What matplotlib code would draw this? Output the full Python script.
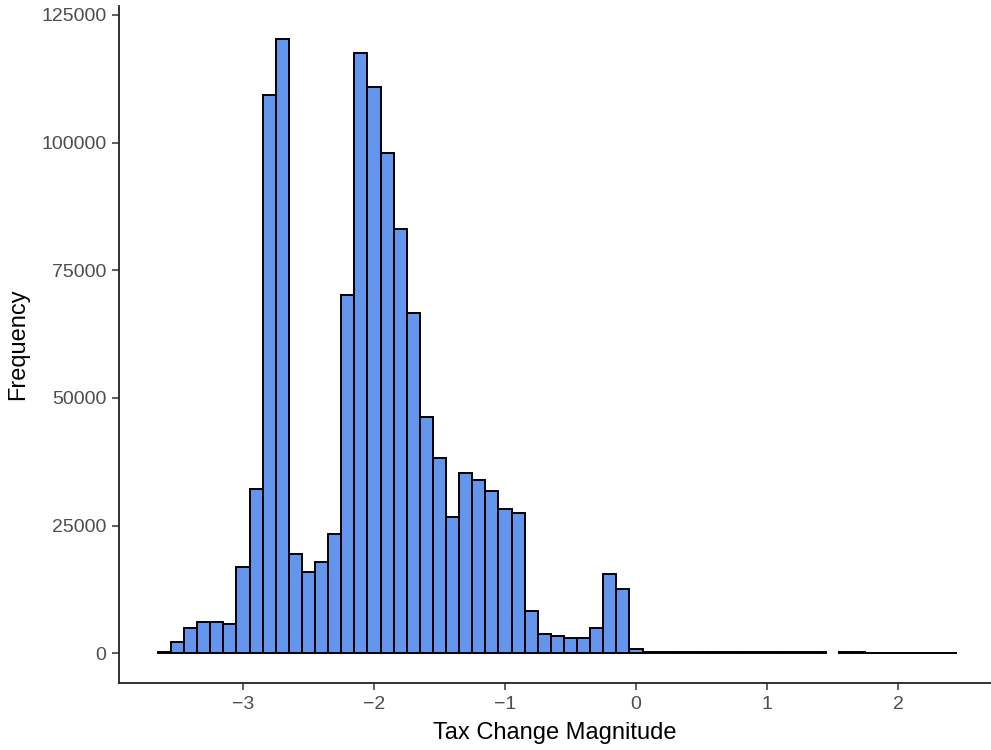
import numpy as np
import matplotlib
matplotlib.use("Agg")
import matplotlib.pyplot as plt

# bin centers (width 0.1) and counts
bin_centers = [-3.6, -3.5, -3.4, -3.3, -3.2, -3.1, -3.0, -2.9, -2.8, -2.7,
               -2.6, -2.5, -2.4, -2.3, -2.2, -2.1, -2.0, -1.9, -1.8, -1.7,
               -1.6, -1.5, -1.4, -1.3, -1.2, -1.1, -1.0, -0.9, -0.8, -0.7,
               -0.6, -0.5, -0.4, -0.3, -0.2, -0.1, 0.0, 0.1, 0.2, 0.3,
               0.4, 0.5, 0.6, 0.7, 0.8, 0.9, 1.0, 1.1, 1.2, 1.3,
               1.4, 1.6, 1.7, 1.8, 1.9, 2.0, 2.1, 2.2, 2.3, 2.4]
counts = [300, 2200, 5000, 6100, 6100, 5800, 16800, 32100, 109300, 120200,
          19500, 15900, 17900, 23400, 70100, 117500, 110800, 97900, 83000, 66600,
          46200, 38300, 26600, 35200, 34000, 31700, 28200, 27400, 8200, 3800,
          3300, 2900, 2900, 5000, 15500, 12500, 900, 250, 250, 250,
          250, 250, 250, 250, 250, 250, 250, 250, 250, 250,
          250, 250, 250, 0, 0, 0, 0, 0, 0, 0]
bin_width = 0.1

x_ticks = [-3, -2, -1, 0, 1, 2]
y_ticks = [0, 25000, 50000, 75000, 100000, 125000]

plt.rcParams['font.family'] = ['Liberation Sans', 'DejaVu Sans']

fig = plt.figure(figsize=(9.91, 7.5), dpi=100)
ax = fig.add_axes([0.120, 0.089, 0.880, 0.903])

ax.bar(bin_centers, counts, width=bin_width, color='#6495ED',
       edgecolor='black', linewidth=1.4, align='center')

ax.set_xlim(-3.947, 2.71)
ax.set_ylim(-5880, 126760)
ax.set_xticks(x_ticks)
ax.set_xticklabels(['\u22123', '\u22122', '\u22121', '0', '1', '2'])
ax.set_yticks(y_ticks)
ax.set_yticklabels([str(v) for v in y_ticks])

for s in ['top', 'right']:
    ax.spines[s].set_visible(False)
for s in ['left', 'bottom']:
    ax.spines[s].set_linewidth(1.3)
    ax.spines[s].set_color('#222222')

ax.tick_params(axis='both', length=5, width=1.1, color='#333333',
               labelcolor='#4D4D4D', labelsize=14, pad=4)

ax.set_xlabel('Tax Change Magnitude', fontsize=17, color='black', labelpad=7)
ax.set_ylabel('Frequency', fontsize=17, color='black', labelpad=9)

fig.savefig('out.png', dpi=100)
